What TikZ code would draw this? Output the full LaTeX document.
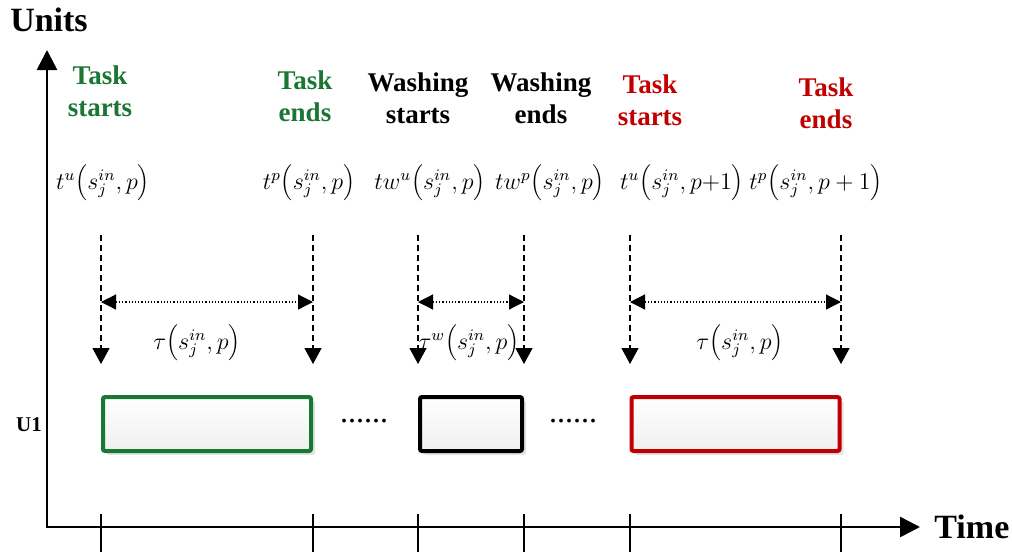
\documentclass[tikz,border=0pt]{standalone}
\usepackage{fontspec}
\setmainfont{Liberation Serif}
\usetikzlibrary{arrows.meta,positioning,shadows}
\definecolor{taskgreen}{RGB}{26,118,52}
\definecolor{taskred}{RGB}{192,0,0}

\begin{document}
\begin{tikzpicture}[
  x=0.5pt,y=-0.5pt,
  every node/.style={inner sep=1pt},
  axis/.style={line width=1.3pt,-{Triangle[length=10pt,width=10pt]}},
  tickmark/.style={line width=1pt},
  hdr/.style={font=\fontsize{13.5}{16}\selectfont\bfseries,align=center},
  lbl/.style={font=\fontsize{12}{14}\selectfont,inner sep=0pt},
  drop/.style={densely dashed,line width=0.6pt,-{Triangle[length=8pt,width=8.5pt]}},
  span/.style={densely dotted,line width=0.6pt,
               {Triangle[length=7.5pt,width=7.5pt]}-{Triangle[length=7.5pt,width=7.5pt]}},
  slot/.style={draw,line width=2pt,rounded corners=1pt,inner sep=0pt,
               top color=white,bottom color=gray!12,minimum height=27pt,
               drop shadow={shadow xshift=2pt,shadow yshift=-2pt,fill=gray!35,opacity=0.6}},
]
  \useasboundingbox (0,0) rectangle (1012,552);

  % axes
  \coordinate (origin) at (47,527);
  \coordinate (yend) at (47,50);
  \coordinate (xend) at (920,527);
  \draw[axis] ([yshift=-0.6pt]origin) -- (yend);
  \draw[axis] (origin) -- (xend);
  \node[font=\fontsize{17}{20}\selectfont\bfseries] (units) at (49,20) {Units};
  \node[font=\fontsize{17}{20}\selectfont\bfseries,right=6pt of xend] (time) {Time};
  \node[font=\fontsize{10.5}{12}\selectfont\bfseries] (u1) at (29,425) {U1};

  % time instants
  \foreach \x [count=\i] in {101,313,418,524,630,841} {
    \coordinate (top\i) at (\x,235);
    \coordinate (tip\i) at (\x,364);
    \coordinate (tk\i) at (\x,514);
    \coordinate (tb\i) at (\x,552);
    \draw[tickmark] (tk\i) -- (tb\i);
    \draw[drop] (top\i) -- (tip\i);
  }

  % headers
  \node[hdr,text=taskgreen] (hs1) at (100,91) {Task\\starts};
  \node[hdr,text=taskgreen] (he1) at (305,96) {Task\\ends};
  \node[hdr] (ws) at (418,98) {Washing\\starts};
  \node[hdr] (we) at (541,98) {Washing\\ends};
  \node[hdr,text=taskred] (hs2) at (650,100) {Task\\starts};
  \node[hdr,text=taskred] (he2) at (826,103) {Task\\ends};

  % time labels
  \node[lbl] (m1) at (103,183) {$t^{u}\!\left(s_j^{in},p\right)$};
  \node[lbl] (m2) at (309,183) {$t^{p}\!\left(s_j^{in},p\right)$};
  \node[lbl] (m3) at (430,183) {$tw^{u}\!\left(s_j^{in},p\right)$};
  \node[lbl] (m4) at (550,183) {$tw^{p}\!\left(s_j^{in},p\right)$};
  \node[lbl] (m5) at (682,183) {$t^{u}\!\left(s_j^{in},p{+}1\right)$};
  \node[lbl] (m6) at (816,183) {$t^{p}\!\left(s_j^{in},p+1\right)$};

  % durations
  \draw[span] (top1 |- 0,302) -- (top2 |- 0,302);
  \draw[span] (top3 |- 0,302) -- (top4 |- 0,302);
  \draw[span] (top5 |- 0,302) -- (top6 |- 0,302);
  \node[lbl] (d1) at (197,343) {$\tau\!\left(s_j^{in},p\right)$};
  \node[lbl] (d2) at (469,343) {$\tau^{w}\!\left(s_j^{in},p\right)$};
  \node[lbl] (d3) at (740,343) {$\tau\!\left(s_j^{in},p\right)$};

  % unit U1 schedule
  \node[slot,draw=taskgreen,minimum width=104pt] (task1) at (207,424) {};
  \node[slot,draw=black,minimum width=51pt] (wash) at (471,424) {};
  \node[slot,draw=taskred,minimum width=104pt] (task2) at (735.5,424) {};
  \node[font=\fontsize{16}{18}\selectfont] (gap1) at (364,421) {......};
  \node[font=\fontsize{16}{18}\selectfont] (gap2) at (573,421) {......};
\end{tikzpicture}
\end{document}
